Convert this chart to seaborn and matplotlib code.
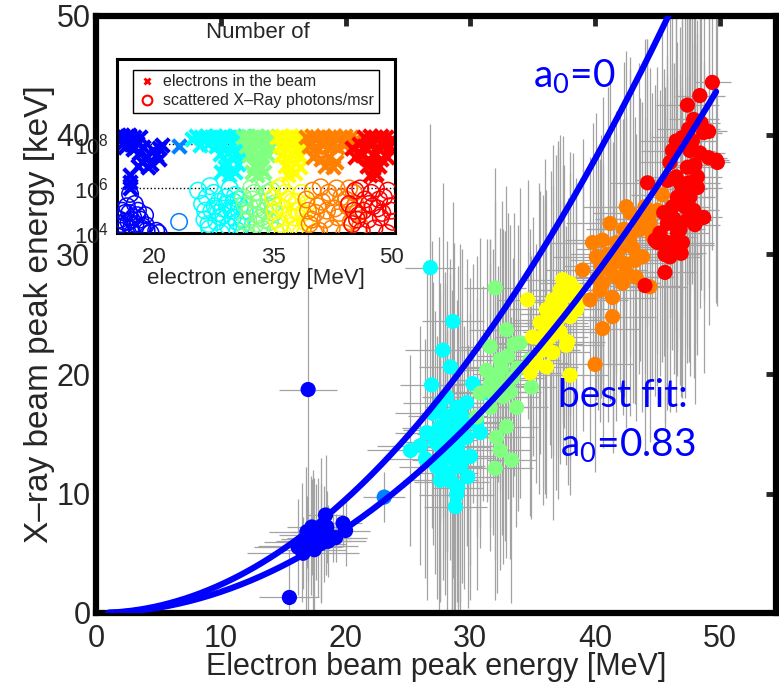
import matplotlib
matplotlib.use("Agg")
import numpy as np
import pandas as pd
import matplotlib.pyplot as plt
from matplotlib import font_manager as fm
from matplotlib.lines import Line2D
import seaborn as sns

# ---------------- data (main panel) ----------------
# electron energy [MeV], X-ray peak energy [keV], errors (MeV, keV)
blue_e  = [17.0, 15.5, 16.2, 16.5, 16.8, 17.0, 17.2, 17.4, 17.6, 17.8, 18.0, 17.3, 16.9, 18.3,
           18.6, 18.0, 17.5, 16.6, 18.5, 19.2, 18.4, 19.8, 20.0, 19.0]
blue_x  = [18.7, 1.3, 5.5, 5.9, 6.2, 5.6, 6.5, 6.0, 6.8, 6.3, 7.0, 7.2, 6.8, 6.6,
           6.0, 5.8, 5.3, 5.0, 7.2, 6.3, 8.2, 7.5, 6.9, 6.3]
blue_de = [2.3, 2.4, 3.5, 3.0, 2.0, 4.0, 2.5, 3.0, 2.0, 2.5, 1.5, 2.0, 3.0, 2.0,
           3.0, 2.0, 2.5, 4.5, 2.0, 2.5, 1.5, 1.5, 2.0, 1.5]
blue_dx = [18.7, 4.0, 4.0, 5.0, 6.0, 3.0, 5.0, 6.0, 4.0, 5.0, 6.0, 4.0, 3.0, 4.0,
           3.0, 5.0, 6.0, 3.0, 3.0, 2.0, 5.0, 2.0, 3.0, 2.0]

dblue_e  = [23.1]
dblue_x  = [9.7]
dblue_de = [1.7]
dblue_dx = [2.1]

cyan_e  = [26.9, 30.2, 31.0, 25.2, 26.4, 26.5, 27.0, 28.1, 28.9, 29.7, 29.2, 28.1, 27.6, 28.6,
           29.7, 30.5, 30.0, 27.3, 28.1, 28.9, 27.6, 29.8, 29.0, 28.9, 28.8, 30.8, 28.4, 27.6,
           26.8, 28.6, 27.8, 28.4, 27.5, 28.0, 28.5, 29.0, 29.5, 28.0, 29.2, 27.8, 28.5, 29.3,
           30.0, 28.7, 27.2, 26.0]
cyan_x  = [19.1, 19.2, 18.4, 13.6, 12.9, 15.1, 16.7, 18.1, 17.2, 17.6, 15.9, 15.3, 13.9, 13.9,
           14.7, 15.9, 13.1, 12.2, 11.7, 12.2, 11.1, 11.4, 10.5, 9.9, 8.9, 15.1, 16.4, 17.6,
           28.9, 24.4, 22.0, 20.6, 15.5, 14.5, 13.0, 14.0, 13.0, 16.5, 12.3, 12.8, 11.0, 16.5,
           16.0, 15.0, 14.3, 14.0]
cyan_de = [2.5, 2.0, 2.5, 3.5, 3.0, 2.5, 3.0, 2.0, 2.5, 3.0, 2.0, 3.5, 2.5, 3.0,
           2.5, 3.0, 2.0, 3.0, 2.5, 2.0, 3.0, 2.5, 2.0, 3.0, 2.5, 2.0, 2.5, 3.0,
           2.0, 2.5, 3.0, 2.5, 3.0, 2.5, 2.0, 3.5, 2.5, 3.0, 2.0, 2.5, 3.0, 2.0,
           2.5, 3.0, 2.5, 3.5]
cyan_dx = [12, 10, 9, 8, 10, 14, 11, 13, 9, 12, 15, 10, 13, 11,
           9, 14, 12, 11, 12, 9, 10, 11, 10, 9, 9, 8, 12, 10,
           12, 10, 14, 9, 16, 13, 14, 15, 11, 12, 13, 10, 11, 14,
           12, 16, 11, 10]

green_e  = [32.0, 32.9, 31.6, 32.4, 34.0, 33.4, 31.6, 34.8, 34.9, 32.6, 33.7, 31.6, 32.9, 32.1,
            32.4, 33.3, 32.0, 30.8, 30.5, 33.8, 32.2, 32.5, 33.0, 32.0, 33.5, 32.8, 31.8, 33.2,
            31.3]
green_x  = [27.2, 23.7, 22.3, 21.2, 22.6, 19.7, 19.2, 21.2, 18.9, 18.1, 17.2, 17.2, 15.6, 14.7,
            13.6, 12.8, 12.1, 18.4, 16.4, 20.5, 20.0, 20.5, 21.5, 19.5, 22.5, 19.0, 18.5, 18.5,
            20.3]
green_de = [2.5, 3.0, 2.5, 3.0, 2.0, 2.5, 3.0, 2.5, 2.0, 3.0, 2.5, 3.0, 2.5, 3.0,
            2.5, 2.0, 3.0, 2.5, 3.0, 2.5, 2.0, 3.0, 2.5, 3.0, 2.0, 2.5, 3.0, 2.5,
            3.0]
green_dx = [10, 12, 9, 11, 13, 10, 12, 9, 11, 14, 10, 12, 11, 13,
            10, 12, 11, 13, 10, 12, 9, 14, 12, 15, 11, 13, 12, 14,
            11]

yellow_e  = [34.6, 37.4, 38.0, 38.5, 36.6, 36.1, 37.4, 35.6, 36.9, 35.0, 38.0, 36.4, 38.5, 35.8,
             35.3, 37.8, 36.1, 38.0, 34.8, 39.0, 37.2, 37.7, 36.0, 36.5, 37.0, 37.5, 37.0, 36.0,
             35.5, 37.2, 38.2, 36.6]
yellow_x  = [26.2, 27.9, 27.6, 27.0, 26.2, 25.4, 25.4, 24.3, 24.3, 23.1, 24.8, 23.1, 25.4, 22.0,
             20.9, 22.7, 20.6, 19.9, 20.1, 26.2, 27.0, 22.4, 24.0, 25.0, 26.0, 26.5, 24.5, 22.5,
             23.0, 23.5, 26.5, 21.8]
yellow_de = [2.5, 3.0, 2.5, 3.0, 2.5, 3.0, 2.5, 3.0, 2.5, 3.0, 2.5, 3.0, 2.5, 3.0,
             2.5, 3.0, 2.5, 3.0, 2.5, 3.0, 2.5, 3.0, 3.5, 2.5, 3.0, 2.5, 3.5, 3.0,
             2.5, 3.0, 2.5, 3.0]
yellow_dx = [10, 12, 11, 9, 13, 10, 12, 11, 14, 10, 12, 9, 11, 13,
             10, 12, 11, 10, 12, 11, 13, 10, 14, 12, 13, 11, 15, 12,
             13, 11, 12, 14]

orange_e  = [39.0, 40.1, 40.6, 41.4, 39.6, 41.4, 40.6, 40.0, 41.7, 42.2, 45.4, 45.0, 44.4, 42.8,
             43.6, 42.3, 41.2, 43.0, 41.7, 40.6, 39.8, 43.8, 42.2, 41.2, 44.6, 44.4, 40.4, 43.3,
             42.5, 41.0, 42.0, 42.8, 43.5, 44.0, 41.5, 40.5, 42.5, 44.2, 43.2, 40.2]
orange_x  = [28.7, 29.8, 27.6, 26.4, 26.2, 24.8, 23.8, 20.8, 28.1, 27.6, 35.0, 33.7, 32.6, 33.5,
             32.1, 32.1, 32.6, 30.6, 31.0, 31.2, 31.0, 29.8, 29.3, 28.7, 31.5, 27.3, 27.0, 28.1,
             34.0, 30.0, 30.5, 31.5, 33.0, 34.0, 29.5, 29.0, 28.5, 33.0, 29.5, 28.0]
orange_de = [3.0, 3.5, 3.0, 3.5, 3.0, 3.5, 3.0, 3.0, 3.5, 3.0, 2.5, 3.0, 3.5, 3.0,
             3.5, 3.0, 3.5, 3.0, 3.5, 3.0, 3.5, 3.0, 3.5, 3.0, 3.5, 3.0, 3.5, 3.0,
             3.5, 3.0, 3.5, 3.0, 3.5, 3.0, 3.5, 3.0, 3.5, 3.0, 3.5, 3.0]
orange_dx = [11, 12, 10, 13, 12, 11, 10, 9, 12, 11, 14, 12, 13, 12,
             11, 14, 12, 13, 11, 12, 10, 13, 12, 11, 12, 13, 11, 12,
             13, 14, 12, 15, 13, 14, 12, 11, 13, 15, 12, 11]

red_e  = [49.4, 48.4, 47.4, 47.9, 48.7, 49.1, 47.0, 47.6, 46.2, 48.4, 49.7, 49.1, 46.0, 47.4,
          48.2, 45.8, 46.8, 44.2, 48.2, 46.6, 47.6, 46.2, 47.9, 48.7, 47.4, 45.8, 46.8, 46.6,
          45.8, 46.0, 46.9, 45.6, 45.6, 45.0, 44.0, 44.8, 49.8, 46.5, 47.0, 47.5, 46.3, 47.2,
          47.8, 48.0, 48.5, 47.5, 46.5, 45.5, 46.5, 47.0, 48.0, 45.2]
red_x  = [44.4, 43.3, 42.5, 41.3, 40.2, 40.3, 39.8, 38.7, 38.7, 38.5, 37.9, 38.1, 37.7, 37.3,
          36.5, 36.2, 36.0, 36.0, 35.6, 34.8, 34.8, 34.0, 33.7, 33.1, 32.9, 32.6, 32.1, 31.8,
          31.0, 29.8, 30.1, 30.0, 28.5, 31.0, 27.4, 31.2, 37.7, 36.5, 35.5, 36.0, 33.0, 34.0,
          39.5, 37.5, 41.0, 40.5, 39.5, 33.5, 30.8, 31.0, 32.5, 31.8]
red_de = [1.5, 2.0, 2.5, 2.0, 1.5, 1.5, 2.5, 2.0, 2.5, 2.0, 1.0, 1.5, 2.5, 2.0,
          2.0, 2.5, 2.0, 3.0, 2.0, 2.5, 2.0, 2.5, 2.0, 1.5, 2.0, 2.5, 2.0, 2.5,
          2.5, 2.5, 2.0, 3.0, 2.5, 3.0, 3.0, 2.5, 1.0, 2.5, 2.0, 2.5, 3.0, 2.0,
          2.0, 2.0, 1.5, 2.5, 3.0, 2.5, 3.0, 2.5, 2.0, 3.0]
red_dx = [14, 13, 15, 12, 14, 13, 15, 12, 14, 13, 12, 14, 13, 15,
          12, 14, 13, 12, 14, 13, 15, 12, 14, 13, 12, 14, 13, 12,
          14, 13, 12, 14, 13, 12, 14, 13, 12, 16, 14, 15, 13, 16,
          12, 15, 14, 13, 16, 12, 14, 13, 15, 12]

group_names  = ["b", "db", "c", "g", "y", "o", "r"]
group_colors = ["#0000ff", "#0080ff", "#00ffff", "#80ff80", "#ffff00", "#ff8000", "#ff0000"]

# theory curves  E_x = 4 gamma^2 E_L / (1 + a0^2/2)
a0_values      = [0.0, 0.83]
curve_e_start  = 1.0
curve_e_end    = [47.0, 49.7]
laser_kev      = 1.55e-3
m_e_mev        = 0.511

# ---------------- data (inset) ----------------
# electron energy [MeV], log10(number) for electrons (x) and photons/msr (o)
inset_x_e = {
    "b":  [15.6, 16.1, 16.5, 17.0, 17.4, 17.8, 18.2, 16.2, 17.3, 18.0, 18.6, 19.0, 18.4, 19.5,
           20.2, 20.6, 20.9, 20.5, 19.8, 17.9, 19.2, 15.9, 16.8, 16.9, 16.9, 16.9],
    "db": [23.1],
    "c":  [24.7, 25.3, 25.9, 26.5, 27.1, 27.7, 28.3, 28.9, 29.5, 30.1, 30.7, 31.3, 25.8, 26.8,
           27.8, 28.8, 29.8, 30.8, 31.6, 28.3, 29.3, 30.3, 31.2, 29.0, 30.5, 28.4, 29.4, 30.2, 28.9],
    "g":  [31.2, 31.8, 32.4, 33.0, 33.6, 34.2, 34.8, 35.4, 31.5, 32.3, 33.1, 33.9, 34.7, 32.0,
           32.8, 33.6, 34.4, 32.6, 33.4, 33.0, 33.8, 32.3],
    "y":  [35.5, 36.1, 36.7, 37.3, 37.9, 38.5, 39.1, 35.8, 36.6, 37.4, 38.2, 39.0, 36.0, 36.8,
           37.6, 38.4, 36.5, 37.3, 36.9, 37.7, 38.4],
    "o":  [39.2, 39.9, 40.6, 41.3, 42.0, 42.7, 43.4, 44.1, 44.8, 45.5, 39.5, 40.4, 41.3, 42.2,
           43.1, 44.0, 44.9, 45.8, 40.0, 41.0, 42.0, 43.0, 41.6, 42.5],
    "r":  [46.5, 47.2, 47.9, 48.6, 49.3, 50.0, 45.0, 45.8, 46.5, 47.3, 48.1, 48.9, 49.7, 50.2,
           45.3, 46.2, 47.0, 47.8, 48.6, 49.4, 46.8, 47.6, 48.4, 47.2, 48.0],
}
inset_x_n = {
    "b":  [8.3, 8.1, 8.35, 8.0, 8.3, 8.05, 8.3, 7.85, 7.75, 7.6, 7.85, 7.4, 7.2, 7.1,
           7.5, 7.8, 7.95, 7.3, 7.7, 7.0, 6.95, 8.4, 8.4, 6.6, 6.3, 6.0],
    "db": [7.9],
    "c":  [8.2, 8.35, 8.3, 8.35, 8.3, 8.35, 8.3, 8.35, 8.3, 8.35, 8.3, 8.35, 7.95, 8.0,
           7.9, 8.0, 7.95, 8.0, 8.1, 7.55, 7.6, 7.5, 7.6, 7.2, 7.1, 6.75, 6.6, 6.75, 6.95],
    "g":  [8.3, 8.35, 8.3, 8.35, 8.3, 8.35, 8.3, 8.2, 7.9, 7.85, 7.95, 7.9, 7.85, 7.5,
           7.4, 7.45, 7.5, 7.0, 6.9, 6.6, 6.75, 6.75],
    "y":  [8.3, 8.35, 8.3, 8.35, 8.3, 8.35, 8.3, 7.9, 7.85, 7.95, 7.9, 7.85, 7.5, 7.4,
           7.5, 7.45, 7.0, 6.9, 6.6, 6.7, 6.95],
    "o":  [8.3, 8.35, 8.3, 8.35, 8.3, 8.35, 8.3, 8.35, 8.3, 8.2, 7.9, 7.85, 7.95, 7.9,
           7.85, 7.95, 7.8, 7.6, 7.4, 7.3, 7.4, 7.2, 7.0, 6.95],
    "r":  [8.3, 8.35, 8.3, 8.35, 8.3, 8.2, 7.8, 8.0, 7.9, 7.95, 7.85, 7.9, 7.85, 7.7,
           7.4, 7.5, 7.3, 7.45, 7.3, 7.4, 7.0, 6.9, 7.0, 6.6, 6.65],
}
inset_o_e = {
    "b":  [15.6, 16.0, 16.3, 16.7, 17.0, 17.3, 17.6, 17.9, 18.2, 18.5, 18.8, 16.5, 17.5, 15.9,
           19.0, 19.5, 20.2, 20.5, 16.9, 18.9, 15.7, 17.2, 16.2, 17.8, 16.8, 18.4, 15.8, 17.1],
    "db": [23.1],
    "c":  [25.5, 26.0, 26.3, 26.6, 26.9, 27.2, 27.5, 27.8, 28.1, 28.4, 28.7, 29.0, 29.3, 29.6,
           29.9, 30.2, 30.5, 30.8, 31.1, 31.4, 27.0, 29.5, 28.0, 30.0, 26.4, 27.6, 28.6, 29.8,
           30.6, 31.0, 26.8, 28.3, 29.2, 30.4],
    "g":  [31.2, 31.6, 32.0, 32.3, 32.6, 33.0, 33.3, 33.6, 34.0, 34.3, 34.6, 35.0, 35.3, 32.2,
           33.8, 32.8, 34.8, 31.5, 31.9, 32.9, 33.9, 34.4, 32.4, 33.5, 35.1, 31.4],
    "y":  [35.0, 35.4, 35.8, 36.2, 36.6, 37.0, 37.4, 37.8, 38.2, 38.6, 39.0, 39.3, 36.0, 37.2,
           38.5, 35.6, 35.2, 36.4, 37.6, 38.8, 36.8, 38.0, 35.9, 37.9],
    "o":  [39.2, 39.6, 40.0, 40.4, 40.8, 41.2, 41.6, 42.0, 42.4, 42.8, 43.2, 43.6, 44.0, 44.4,
           44.8, 45.2, 45.6, 46.0, 40.2, 43.0, 41.0, 44.6, 39.4, 40.6, 41.8, 43.4, 44.2, 45.4,
           42.2, 39.9],
    "r":  [44.6, 45.0, 45.4, 45.8, 46.2, 46.6, 47.0, 47.4, 47.8, 48.2, 48.6, 49.0, 49.4, 49.8,
           50.1, 46.0, 48.0, 49.5, 45.2, 46.4, 47.6, 48.8, 49.9, 47.1, 48.4, 45.6],
}
inset_o_n = {
    "b":  [4.6, 4.3, 4.9, 4.5, 4.2, 4.7, 4.4, 5.0, 4.6, 4.3, 4.8, 5.2, 5.3, 5.0,
           4.1, 4.0, 4.1, 4.0, 5.75, 4.35, 4.1, 4.0, 4.5, 4.8, 4.9, 4.2, 4.4, 4.6],
    "db": [4.5],
    "c":  [5.9, 5.3, 4.6, 5.6, 4.2, 5.0, 5.8, 4.5, 5.4, 4.0, 4.8, 5.6, 4.3, 5.1,
           4.7, 5.7, 4.1, 5.2, 4.6, 5.0, 6.1, 6.0, 4.9, 5.4, 5.0, 5.2, 5.1, 5.0,
           5.5, 4.3, 4.4, 4.7, 5.3, 4.5],
    "g":  [5.6, 4.5, 5.2, 4.0, 5.8, 4.8, 5.4, 4.2, 5.0, 5.8, 4.5, 5.3, 4.1, 6.0,
           6.1, 4.4, 5.9, 4.0, 4.9, 5.1, 4.6, 5.2, 5.5, 4.7, 4.9, 5.3],
    "y":  [5.6, 4.6, 5.2, 4.0, 5.8, 4.8, 5.4, 4.2, 5.0, 5.8, 4.5, 5.3, 6.1, 4.3,
           4.0, 6.0, 5.0, 5.1, 4.7, 4.9, 5.5, 5.4, 4.4, 5.0],
    "o":  [5.5, 4.4, 5.9, 4.9, 4.1, 5.4, 4.6, 5.8, 4.2, 5.1, 4.7, 5.6, 4.0, 5.2,
           4.5, 5.8, 4.9, 4.3, 4.0, 6.0, 6.05, 6.0, 5.0, 5.2, 5.0, 4.9, 5.5, 5.3,
           5.6, 4.6],
    "r":  [5.3, 4.4, 5.9, 4.8, 4.1, 5.5, 4.6, 5.8, 4.2, 5.1, 4.7, 5.6, 4.0, 5.2,
           4.5, 6.0, 6.0, 5.9, 5.0, 5.0, 5.2, 4.9, 5.0, 5.3, 5.5, 4.6],
}
inset_xticks = [20, 35, 50]
inset_yticks_log = [4, 6, 8]

# ---------------- style ----------------
sns.set_style("white")
names = {f.name for f in fm.fontManager.ttflist}
narrow = "Liberation Sans Narrow" if "Liberation Sans Narrow" in names else "Liberation Sans"
plt.rcParams["font.family"] = [narrow, "Liberation Sans", "DejaVu Sans"]
plt.rcParams["mathtext.fontset"] = "custom"
plt.rcParams["mathtext.rm"] = "Lato"
plt.rcParams["mathtext.it"] = "Lato:italic"

fig = plt.figure(figsize=(7.79, 6.88), dpi=100)
fig.patch.set_facecolor("white")
ax = fig.add_axes([96 / 779, 1 - 613 / 688, 680 / 779, (613 - 15.5) / 688])

# main data frame
frames = []
for name, e, x, de, dx in [
    ("b", blue_e, blue_x, blue_de, blue_dx),
    ("db", dblue_e, dblue_x, dblue_de, dblue_dx),
    ("c", cyan_e, cyan_x, cyan_de, cyan_dx),
    ("g", green_e, green_x, green_de, green_dx),
    ("y", yellow_e, yellow_x, yellow_de, yellow_dx),
    ("o", orange_e, orange_x, orange_de, orange_dx),
    ("r", red_e, red_x, red_de, red_dx),
]:
    frames.append(pd.DataFrame({"E": e, "X": x, "dE": de, "dX": dx, "grp": name}))
df = pd.concat(frames, ignore_index=True)
palette = dict(zip(group_names, group_colors))

ax.errorbar(df["E"], df["X"], xerr=df["dE"], yerr=df["dX"], fmt="none",
            ecolor="#a3a3a3", elinewidth=0.9, capsize=0, zorder=1)
sns.scatterplot(data=df, x="E", y="X", hue="grp", palette=palette, hue_order=group_names,
                s=120, edgecolor="none", linewidth=0, legend=False, ax=ax, zorder=2)

for a0, e_end in zip(a0_values, curve_e_end):
    ee = np.linspace(curve_e_start, e_end, 300)
    xx = 4.0 * (ee / m_e_mev) ** 2 * laser_kev / (1.0 + a0 ** 2 / 2.0)
    sns.lineplot(x=ee, y=xx, color="#0000ff", linewidth=4.4, ax=ax, zorder=3,
                 estimator=None, sort=False)

ax.set_xlim(0, 54.5)
ax.set_ylim(0, 50)
ax.set_xticks([0, 10, 20, 30, 40, 50])
ax.set_yticks([0, 10, 20, 30, 40, 50])
ax.tick_params(direction="in", length=7, width=3.5, top=True, right=True,
               labelsize=22, pad=8)
ax.tick_params(axis="y", pad=4)
for sp in ax.spines.values():
    sp.set_linewidth(4.5)
    sp.set_color("black")
ax.set_xlabel("Electron beam peak energy [MeV]", fontsize=22)
ax.set_ylabel("X\u2013ray beam peak energy [keV]", fontsize=24,
              fontfamily=["Liberation Sans", "DejaVu Sans"])
ax.xaxis.set_label_coords(0.5, -0.066)
ax.yaxis.set_label_coords(-0.06, 0.5)

txt_kw = dict(color="#0000ff", fontfamily=["Lato", "DejaVu Sans"], fontsize=28, zorder=4)
ax.text(35.0, 44.0, r"a$_{\mathrm{0}}$=0", ha="left", va="baseline", **txt_kw)
ax.text(37.0, 17.2, "best fit:", ha="left", va="baseline", **txt_kw)
ax.text(37.2, 13.1, r"a$_{\mathrm{0}}$=0.83", ha="left", va="baseline", **txt_kw)

# ---------------- inset ----------------
ax_in = fig.add_axes([117 / 779, 1 - 233 / 688, 278 / 779, 174 / 688])
ax_in.set_zorder(5)
ax_in.set_facecolor("white")
ax_in.set_axisbelow(True)
for name, col in zip(group_names, group_colors):
    sns.scatterplot(x=inset_x_e[name], y=10.0 ** np.array(inset_x_n[name]), marker="x",
                    s=95, color=col, linewidth=3.0, ax=ax_in, legend=False, zorder=2)
for name, col in zip(group_names, group_colors):
    sns.scatterplot(x=inset_o_e[name], y=10.0 ** np.array(inset_o_n[name]), marker="o",
                    s=140, facecolor="none", edgecolor=col, linewidth=1.1, ax=ax_in,
                    legend=False, zorder=3)
ax_in.set_yscale("log")
ax_in.set_xlim(15.25, 50.4)
ax_in.set_ylim(1e4, 10 ** 11.8)
ax_in.set_xticks(inset_xticks)
ax_in.set_yticks([10.0 ** k for k in inset_yticks_log])
ax_in.yaxis.set_minor_locator(matplotlib.ticker.NullLocator())
ax_in.yaxis.grid(True, linestyle=":", color="black", linewidth=1.0)
ax_in.tick_params(direction="in", length=3, width=1, labelsize=16, pad=6)
ax_in.tick_params(axis="x", pad=10)
for sp in ax_in.spines.values():
    sp.set_linewidth(2.2)
    sp.set_color("black")
ax_in.set_xlabel("electron energy [MeV]", fontsize=16, labelpad=0)
handles = [Line2D([], [], marker="x", color="red", linestyle="none", markersize=5, mew=2),
           Line2D([], [], marker="o", markerfacecolor="none", markeredgecolor="red",
                  linestyle="none", markersize=7, mew=1.5)]
leg = ax_in.legend(handles, ["electrons in the beam", "scattered X\u2013Ray photons/msr"],
                   loc="upper center", bbox_to_anchor=(0.5, 0.985), fontsize=11.5,
                   frameon=True, fancybox=False, framealpha=1, edgecolor="black",
                   borderpad=0.3, handletextpad=0.4, labelspacing=0.25, handlelength=1.2)
leg.get_frame().set_linewidth(1.0)
fig.text(258 / 779, 1 - 32 / 688, "Number of", ha="center", va="center", fontsize=16,
         fontfamily=["Liberation Sans", "DejaVu Sans"])

fig.savefig("out.png", dpi=100)
